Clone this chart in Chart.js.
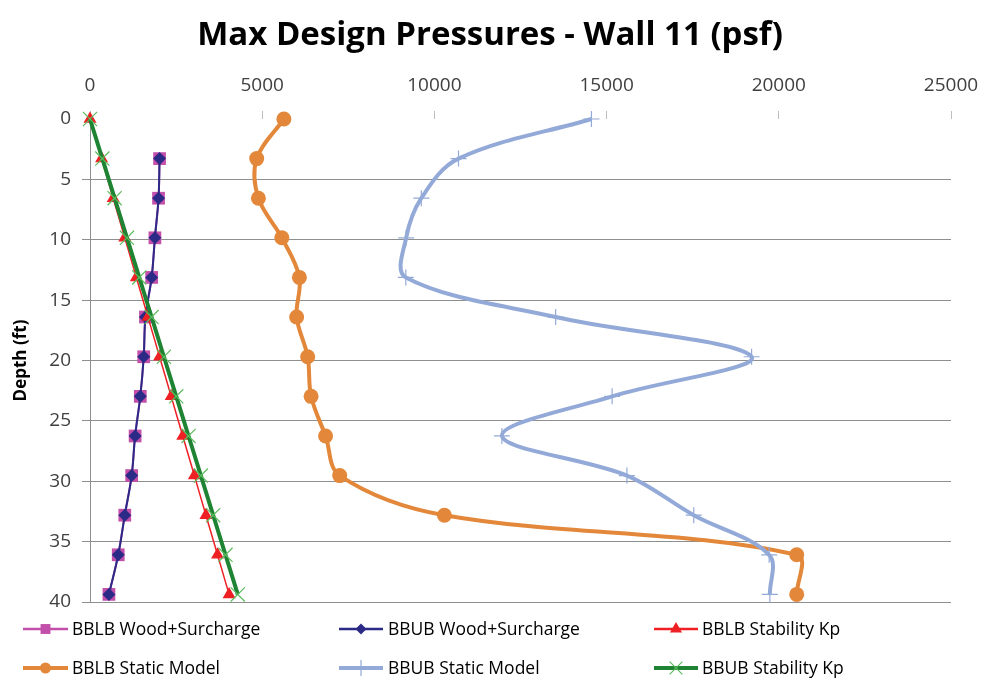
<!DOCTYPE html>
<html>
<head>
<meta charset="utf-8">
<title>Max Design Pressures - Wall 11 (psf)</title>
<script src="https://cdn.jsdelivr.net/npm/chart.js@4.4.1/dist/chart.umd.min.js"></script>
<style>
  html, body { margin: 0; padding: 0; background: #ffffff; }
  #wrap { width: 984px; height: 681px; position: relative; }
</style>
</head>
<body>
<div id="wrap"><canvas id="chart" width="984" height="681"></canvas></div>
<script>
// Max Design Pressures - Wall 11 (psf)
// depth (ft) on the reversed vertical axis, pressure (psf) on the top axis

// ================= DATA =================
const chartTitle = "Max Design Pressures - Wall 11 (psf)";
const depthTitle = "Depth (ft)";

const depthFt     = [0, 3.28, 6.56, 9.84, 13.12, 16.40, 19.69, 22.97, 26.25, 29.53, 32.81, 36.09, 39.37];
const woodDepthFt = [3.28, 6.56, 9.84, 13.12, 16.40, 19.69, 22.97, 26.25, 29.53, 32.81, 36.09, 39.37];

const bblbWood   = [2020, 1990, 1885, 1790, 1610, 1560, 1460, 1310, 1210, 1010, 820, 550];
const bbubWood   = [2020, 1990, 1885, 1790, 1610, 1560, 1460, 1310, 1210, 1010, 820, 550];
const bblbKp     = [0, 337, 673, 1010, 1346, 1683, 2020, 2357, 2693, 3030, 3366, 3703, 4039];
const bblbStatic = [5630, 4840, 4890, 5570, 6080, 6000, 6320, 6420, 6840, 7250, 10290, 20520, 20520];
const bbubStatic = [14560, 10700, 9620, 9180, 9170, 13520, 19210, 15160, 11960, 15590, 17530, 19720, 19740];
const bbubKp     = [0, 358, 715, 1073, 1430, 1788, 2146, 2504, 2861, 3219, 3576, 3934, 4291];

const seriesNames = [
  "BBLB Wood+Surcharge", "BBUB Wood+Surcharge", "BBLB Stability Kp",
  "BBLB Static Model", "BBUB Static Model", "BBUB Stability Kp"
];

const pressureMin = 0, pressureMax = 25000, pressureStep = 5000;
const depthMin = 0, depthMax = 40, depthStep = 5;

// ================= STYLES =================
const FONT = "'Open Sans', 'Liberation Sans', sans-serif";

const styles = [
  { color: "#C24FAA", point: "rect",     radius: 9,   lw: 2,   pbw: 0,   pcolor: "#C24FAA", lgRadius: 7 },
  { color: "#2B2A86", point: "rectRot",  radius: 6.5, lw: 2,   pbw: 0,   pcolor: "#2B2A86", lgRadius: 5.5 },
  { color: "#EE2024", point: "triangle", radius: 7.5, lw: 1.5, pbw: 0,   pcolor: "#EE2024", lgRadius: 7 },
  { color: "#E3883A", point: "circle",   radius: 7.5, lw: 4,   pbw: 0,   pcolor: "#E3883A", lgRadius: 5.5 },
  { color: "#93AAD8", point: "cross",    radius: 8,   lw: 4,   pbw: 1.2, pcolor: "#93AAD8", lgRadius: 8 },
  { color: "#1E8433", point: "crossRot", radius: 10,  lw: 4,   pbw: 1.2, pcolor: "#5DBB5D", lgRadius: 9 }
];

function toPoints(xs, ys) {
  return xs.map((v, i) => ({ x: v, y: ys[i] }));
}

const seriesData = [
  toPoints(bblbWood, woodDepthFt),
  toPoints(bbubWood, woodDepthFt),
  toPoints(bblbKp, depthFt),
  toPoints(bblbStatic, depthFt),
  toPoints(bbubStatic, depthFt),
  toPoints(bbubKp, depthFt)
];

// later series drawn on top, like the original sheet
const datasets = seriesNames.map((name, i) => ({
  label: name,
  data: seriesData[i],
  showLine: true,
  tension: 0.35,
  borderColor: styles[i].color,
  borderWidth: styles[i].lw,
  backgroundColor: styles[i].pcolor,
  pointStyle: styles[i].point,
  pointRadius: styles[i].radius,
  pointHoverRadius: styles[i].radius,
  pointBorderWidth: styles[i].pbw,
  pointBorderColor: styles[i].pcolor,
  pointBackgroundColor: styles[i].pcolor,
  order: seriesNames.length - i,
  clip: false
}));

// ================= TITLE + LEGEND PLUGIN =================
const legendCols = [
  { lineX0: 23, lineX1: 68, textX: 72 },
  { lineX0: 339, lineX1: 383, textX: 388 },
  { lineX0: 654, lineX1: 698, textX: 702 }
];
const legendRows = [629, 668];

const decorPlugin = {
  id: "decor",
  afterDraw(chart) {
    const ctx = chart.ctx;
    ctx.save();

    // title
    ctx.fillStyle = "#000000";
    ctx.font = "bold 33px " + FONT;
    ctx.textAlign = "center";
    ctx.textBaseline = "alphabetic";
    ctx.fillText(chartTitle, 490, 45);

    // legend, 3 columns x 2 rows
    ctx.font = "17.5px " + FONT;
    ctx.textAlign = "left";
    ctx.textBaseline = "middle";
    seriesNames.forEach((name, i) => {
      const col = legendCols[i % 3];
      const y = legendRows[Math.floor(i / 3)];
      const st = styles[i];

      ctx.strokeStyle = st.color;
      ctx.lineWidth = Math.max(st.lw, 2.5);
      ctx.beginPath();
      ctx.moveTo(col.lineX0, y);
      ctx.lineTo(col.lineX1, y);
      ctx.stroke();

      ctx.fillStyle = st.pcolor;
      ctx.strokeStyle = st.pcolor;
      ctx.lineWidth = st.pbw;
      Chart.helpers.drawPoint(ctx, {
        pointStyle: st.point,
        radius: st.lgRadius,
        rotation: 0,
        borderWidth: st.pbw
      }, (col.lineX0 + col.lineX1) / 2, y);

      ctx.fillStyle = "#000000";
      ctx.fillText(name, col.textX, y + 1);
    });

    ctx.restore();
  }
};

// ================= CHART =================
const ctx = document.getElementById("chart").getContext("2d");
new Chart(ctx, {
  type: "scatter",
  data: { datasets },
  options: {
    responsive: false,
    animation: false,
    events: [],
    layout: { padding: { left: 0, right: 33, top: 60, bottom: 79 } },
    plugins: {
      legend: { display: false },
      title: { display: false },
      tooltip: { enabled: false }
    },
    scales: {
      x: {
        type: "linear",
        position: "top",
        min: pressureMin,
        max: pressureMax,
        ticks: {
          stepSize: pressureStep,
          color: "#404040",
          padding: 14,
          font: { family: FONT, size: 19 },
          callback: v => String(v)
        },
        grid: {
          drawOnChartArea: false,
          drawTicks: true,
          tickLength: 8,
          color: "#bdbdbd",
          tickColor: "#bdbdbd"
        },
        border: { display: false },
        afterFit(scale) {
          scale.height = 59;
          scale.paddingRight = 0;
          scale.paddingLeft = 0;
        }
      },
      y: {
        type: "linear",
        reverse: true,
        min: depthMin,
        max: depthMax,
        ticks: {
          stepSize: depthStep,
          color: "#404040",
          padding: 11,
          font: { family: FONT, size: 19 }
        },
        grid: {
          color: c => (c.tick && c.tick.value === 0 ? "rgba(0,0,0,0)" : "#8f8f8f"),
          tickColor: c => (c.tick && c.tick.value === 0 ? "rgba(0,0,0,0)" : "#8f8f8f"),
          tickLength: 8,
          lineWidth: 1
        },
        border: { display: true, color: "#8f8f8f", width: 1 },
        title: {
          display: true,
          text: depthTitle,
          color: "#000000",
          font: { family: FONT, size: 17, weight: "bold" },
          padding: { top: 11, bottom: 0 }
        },
        afterFit(scale) { scale.width = 90; }
      }
    }
  },
  plugins: [decorPlugin]
});
</script>
</body>
</html>
